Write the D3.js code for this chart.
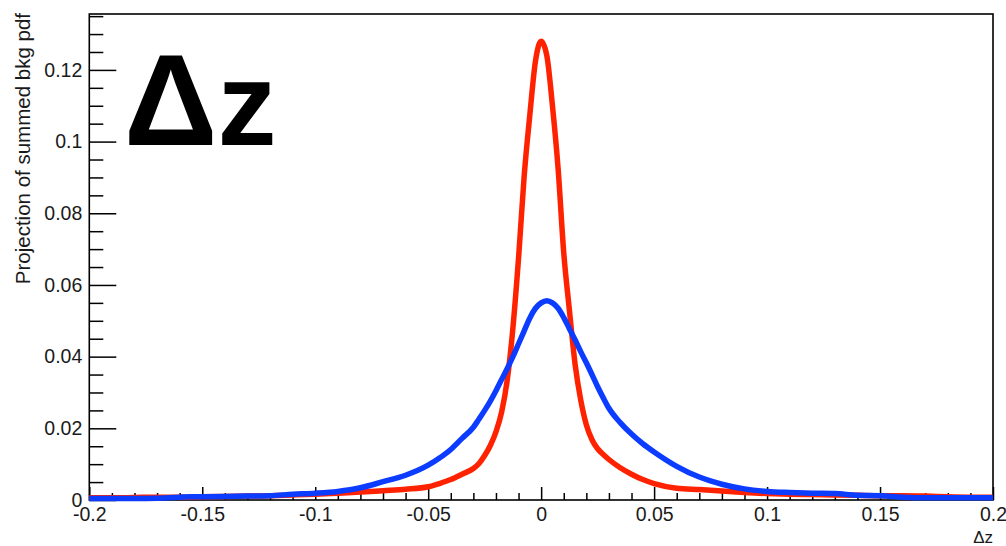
<!DOCTYPE html>
<html>
<head>
<meta charset="utf-8">
<script src="https://cdn.jsdelivr.net/npm/d3@7"></script>
<style>
  body { margin: 0; background: #fff; }
  svg { display: block; }
  text { font-family: "Liberation Sans", Arial, Helvetica, sans-serif; }
</style>
</head>
<body>
<svg id="chart" width="1006" height="546"></svg>
<script>
// Δz sampling points
const dz = [
  -0.20, -0.19, -0.18, -0.17, -0.16, -0.15, -0.14, -0.13, -0.12, -0.11,
  -0.10, -0.09, -0.08, -0.07, -0.06, -0.05, -0.045, -0.04, -0.035, -0.03,
  -0.0275, -0.025, -0.0225, -0.02, -0.0175, -0.015, -0.0125, -0.01, -0.0075, -0.005,
  -0.0025, 0, 0.0025, 0.005, 0.0075, 0.01, 0.0125, 0.015, 0.0175, 0.02,
  0.0225, 0.025, 0.0275, 0.03, 0.035, 0.04, 0.045, 0.05, 0.06, 0.07,
  0.08, 0.09, 0.10, 0.11, 0.12, 0.13, 0.14, 0.15, 0.16, 0.17,
  0.18, 0.19, 0.20
];

// narrow projection (red)
const pdfRed = [
  0.0006, 0.0006, 0.0007, 0.0008, 0.0008, 0.0009, 0.0010, 0.0011, 0.0012, 0.0014,
  0.0016, 0.0019, 0.0022, 0.0026, 0.0030, 0.0037, 0.0046, 0.0057, 0.0072, 0.0088,
  0.0102, 0.0124, 0.0152, 0.0190, 0.0245, 0.0335, 0.0480, 0.0675, 0.0905, 0.1075,
  0.1225, 0.1280, 0.1240, 0.1100, 0.0925, 0.0690, 0.0530, 0.0380, 0.0280, 0.0210,
  0.0168, 0.0143, 0.0127, 0.0113, 0.0090, 0.0072, 0.0057, 0.0046, 0.0033, 0.0029,
  0.0025, 0.0021, 0.0018, 0.0016, 0.0015, 0.0014, 0.0013, 0.0012, 0.0012, 0.0011,
  0.0009, 0.0008, 0.0008
];

// wide projection (blue)
const pdfBlue = [
  0.0004, 0.0004, 0.0004, 0.0005, 0.0008, 0.0009, 0.0010, 0.0011, 0.0012, 0.0016,
  0.0019, 0.0024, 0.0034, 0.0051, 0.0069, 0.0097, 0.0117, 0.0141, 0.0172, 0.0203,
  0.0226, 0.0250, 0.0276, 0.0305, 0.0336, 0.0367, 0.0400, 0.0436, 0.0472, 0.0508,
  0.0535, 0.0550, 0.0556, 0.0550, 0.0535, 0.0509, 0.0478, 0.0447, 0.0414, 0.0383,
  0.0350, 0.0316, 0.0285, 0.0256, 0.0216, 0.0184, 0.0157, 0.0134, 0.0094, 0.0064,
  0.0044, 0.0031, 0.0024, 0.0021, 0.0019, 0.0018, 0.0013, 0.0012, 0.0008, 0.0006,
  0.0006, 0.0006, 0.0006
];

const xTickValues = [-0.2, -0.15, -0.1, -0.05, 0, 0.05, 0.1, 0.15, 0.2];
const xTickLabels = ["-0.2", "-0.15", "-0.1", "-0.05", "0", "0.05", "0.1", "0.15", "0.2"];
const yTickValues = [0, 0.02, 0.04, 0.06, 0.08, 0.1, 0.12];
const yTickLabels = ["0", "0.02", "0.04", "0.06", "0.08", "0.1", "0.12"];
const xDomain = [-0.2, 0.2];
const yDomain = [0, 0.1356];

const svg = d3.select("#chart");
const frame = { left: 89.3, right: 993, top: 14, bottom: 500 };

const x = d3.scaleLinear().domain(xDomain).range([frame.left, frame.right]);
const y = d3.scaleLinear().domain(yDomain).range([frame.bottom, frame.top]);

// minor tick positions
const xMinor = d3.range(-200, 201, 10).map(v => v / 1000).filter(v => !xTickValues.some(t => Math.abs(t - v) < 1e-9));
const yMinor = d3.range(0, 136, 5).map(v => v / 1000).filter(v => v <= yDomain[1] && !yTickValues.some(t => Math.abs(t - v) < 1e-9));

const labelFont = "19.5px";

// y axis (ticks point inward)
const yAxisG = svg.append("g").attr("transform", `translate(${frame.left},0)`);
yAxisG.call(d3.axisLeft(y).tickValues(yTickValues)
  .tickFormat((d, i) => yTickLabels[i]).tickSizeInner(-27).tickSizeOuter(0).tickPadding(7));
const yMinorG = svg.append("g").attr("transform", `translate(${frame.left},0)`);
yMinorG.call(d3.axisLeft(y).tickValues(yMinor).tickFormat("").tickSizeInner(-14).tickSizeOuter(0));

// x axis
const xAxisG = svg.append("g").attr("transform", `translate(0,${frame.bottom})`);
xAxisG.call(d3.axisBottom(x).tickValues(xTickValues)
  .tickFormat((d, i) => xTickLabels[i]).tickSizeInner(-13).tickSizeOuter(0).tickPadding(7));
const xMinorG = svg.append("g").attr("transform", `translate(0,${frame.bottom})`);
xMinorG.call(d3.axisBottom(x).tickValues(xMinor).tickFormat("").tickSizeInner(-7).tickSizeOuter(0));

svg.selectAll(".domain").remove();
svg.selectAll(".tick line").attr("stroke", "#000").attr("stroke-width", 1.5);
svg.selectAll(".tick text").attr("fill", "#1a1a1a").style("font-size", labelFont)
  .style("font-family", "'Liberation Sans', Arial, Helvetica, sans-serif");

// frame
svg.append("rect")
  .attr("x", frame.left).attr("y", frame.top)
  .attr("width", frame.right - frame.left).attr("height", frame.bottom - frame.top)
  .attr("fill", "none").attr("stroke", "#000").attr("stroke-width", 1.6);

// curves
const line = d3.line()
  .x((d, i) => x(dz[i]))
  .y(d => y(d))
  .curve(d3.curveMonotoneX);

svg.append("path").datum(pdfRed)
  .attr("d", line).attr("fill", "none")
  .attr("stroke", "#ff2200").attr("stroke-width", 5.5).attr("stroke-linejoin", "round");

svg.append("path").datum(pdfBlue)
  .attr("d", line).attr("fill", "none")
  .attr("stroke", "#0b3cff").attr("stroke-width", 5.5).attr("stroke-linejoin", "round");

// axis titles
svg.append("text")
  .attr("transform", `translate(29.5,${frame.top - 1}) rotate(-90)`)
  .attr("text-anchor", "end")
  .attr("fill", "#1a1a1a")
  .style("font-size", "20.5px")
  .text("Projection of summed bkg pdf");

svg.append("text")
  .attr("x", frame.right).attr("y", 543)
  .attr("text-anchor", "end")
  .attr("fill", "#1a1a1a")
  .style("font-size", "17px")
  .text("Δz");

// large variable label
const big = svg.append("text")
  .attr("x", 124).attr("y", 145)
  .attr("fill", "#000")
  .style("font-weight", "bold");
big.append("tspan").style("font-size", "130px").text("Δ");
big.append("tspan").style("font-size", "118px").text("z");
</script>
</body>
</html>
